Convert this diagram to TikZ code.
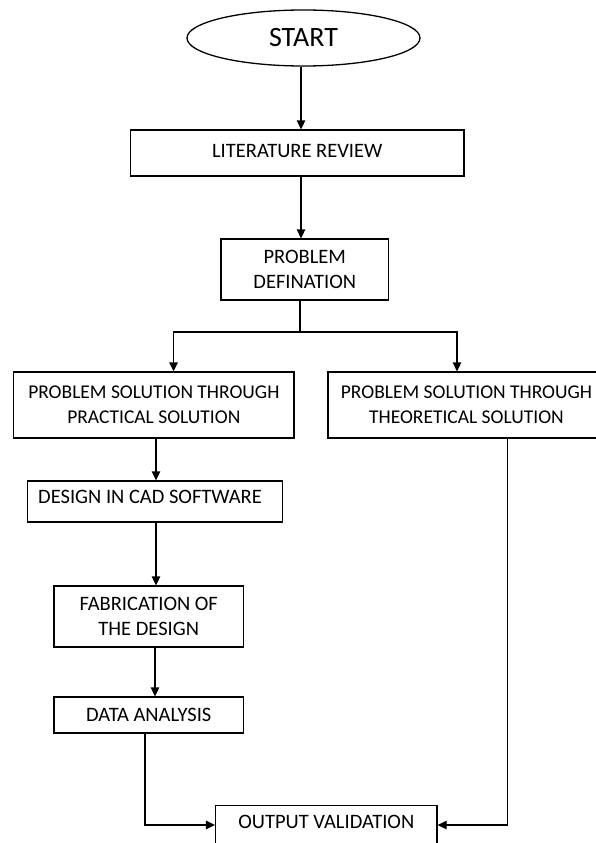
\documentclass[tikz,border=0pt]{standalone}
\usepackage{fontspec}
\setmainfont{Carlito}
\usetikzlibrary{arrows.meta,shapes.geometric}
\begin{document}
\begin{tikzpicture}[x=1pt,y=-1pt,
  box/.style={draw,line width=1.3pt,inner sep=0pt,align=center,font=\fontsize{20.5}{25}\selectfont},
  widebox/.style={box,font=\fontsize{19.5}{25}\selectfont},
  arr/.style={line width=1.3pt,-{Triangle[width=8.5pt,length=9pt]}},
  ln/.style={line width=1.3pt}]
\useasboundingbox (0,0) rectangle (595,843);
\node[draw,ellipse,line width=1.3pt,minimum width=233pt,minimum height=56pt,inner sep=0pt,font=\fontsize{28}{32}\selectfont] (start) at (303.5,38) {START};
\node[box,minimum width=333.5pt,minimum height=46pt,text height=14pt,text depth=6pt] (lit) at (297.25,153) {LITERATURE REVIEW};
\node[box,minimum width=167.5pt,minimum height=61pt] (prob) at (304.75,269.5) {PROBLEM\\DEFINATION};
\node[widebox,minimum width=280.3pt,minimum height=66pt] (prac) at (153.85,405) {PROBLEM SOLUTION THROUGH\\PRACTICAL SOLUTION};
\node[widebox,minimum width=277pt,minimum height=66pt] (theo) at (466.5,405) {PROBLEM SOLUTION THROUGH\hspace{2pt}\\THEORETICAL SOLUTION};
\node[box,minimum width=255pt,minimum height=41pt,text height=16pt,text depth=12pt] (design) at (155,501.5) {DESIGN IN CAD SOFTWARE\hspace{10pt}};
\node[box,minimum width=189.5pt,minimum height=61pt] (fab) at (148.75,616.5) {FABRICATION OF\\THE DESIGN};
\node[box,minimum width=189.5pt,minimum height=36pt] (data) at (148.75,715) {DATA ANALYSIS};
\node[box,anchor=north,minimum width=221.4pt,text height=18pt,text depth=40pt,inner ysep=5pt] (out) at (326.3,805) {OUTPUT VALIDATION};
\coordinate (colx) at (156,0);
\coordinate (br) at (300,332);
\coordinate (bl) at (173.6,332);
\coordinate (brr) at (457,332);
\coordinate (dl) at (145,825);
\coordinate (dr) at (507.6,825);
\draw[arr] (start.south -| 301,0) -- (lit.north -| 301,0);
\draw[arr] (lit.south -| 301,0) -- (prob.north -| 301,0);
\draw[ln] (prob.south -| br) -- (br);
\draw[arr] (br) -- (bl) -- (bl |- prac.north);
\draw[arr] (br) -- (brr) -- (brr |- theo.north);
\draw[arr] (prac.south -| colx) -- (design.north -| colx);
\draw[arr] (design.south -| colx) -- (fab.north -| colx);
\draw[arr] (fab.south -| 155,0) -- (data.north -| 155,0);
\draw[arr] (data.south -| dl) -- (dl) -- (out.west |- dl);
\draw[arr] (theo.south -| dr) -- (dr) -- (out.east |- dr);
\end{tikzpicture}
\end{document}
